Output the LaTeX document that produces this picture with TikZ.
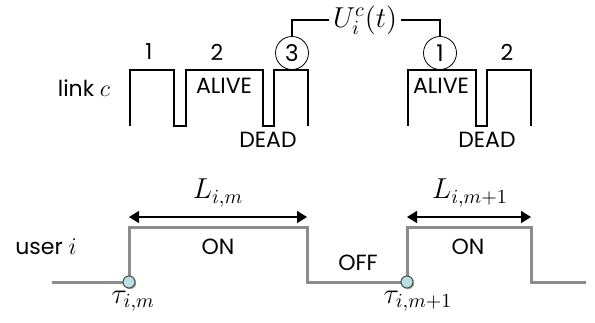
\documentclass[tikz,border=0pt]{standalone}
\usepackage[no-math]{fontspec}
\setmainfont{Poppins}
\usetikzlibrary{arrows.meta,shadows}

\begin{document}
\begin{tikzpicture}[
    x=0.5pt, y=-0.5pt,
    lbl/.style={font=\fontsize{11}{13}\selectfont, inner sep=1pt},
    mth/.style={font=\fontsize{14}{16}\selectfont, inner sep=1pt},
    num/.style={draw, circle, thin, minimum size=16.5pt, inner sep=0pt, fill=white, font=\fontsize{11.5}{13}\selectfont},
    link/.style={line width=0.75pt},
    usr/.style={line width=1.5pt, gray!90, line join=miter},
    dot/.style={draw=black!70, circle, fill={rgb,255:red,184;green,224;blue,228}, minimum size=6pt, inner sep=0pt, line width=0.5pt,
        drop shadow={shadow xshift=0.6pt, shadow yshift=-0.6pt, fill=gray!70, opacity=1}},
    span/.style={{Triangle[length=5pt,width=6pt]}-{Triangle[length=5pt,width=6pt]}, line width=0.75pt}
]
\useasboundingbox (0,0) rectangle (595,322);

% Link waveform
\draw[link] (130,126) -- (130,70) -- (174,70) -- (174,126) -- (186,126) -- (186,70) -- (263,70)
    -- (263,126) -- (274,126) -- (274,70) -- (308,70) -- (308,126);
\draw[link] (408,126) -- (408,70) -- (476,70) -- (476,126) -- (487,126) -- (487,70) -- (531,70) -- (531,126);

% User waveform
\draw[usr] (52,282) -- (129,282) -- (129,227) -- (307,227) -- (307,282) -- (407,282)
    -- (407,227) -- (531,227) -- (531,282) -- (586,282);

% Nodes
\node[lbl] (linkc) at (84,88) {link {\fontsize{13}{15}\selectfont$c$}};
\node[lbl] (one) at (149,52) {1};
\node[lbl] (two) at (217,52) {2};
\node[lbl] (alive1) at (224,86) {ALIVE};
\node[lbl] (dead1) at (268,140) {DEAD};
\node[num] (c3) at (292,53) {3};
\node[mth, inner sep=2pt] (U) at (365,20) {$U_i^c(t)$};
\node[num] (c1) at (440,53) {1};
\node[lbl] (alive2) at (441,86) {ALIVE};
\node[lbl] (dead2) at (487,140) {DEAD};
\node[lbl] (twob) at (507,52) {2};

\node[lbl] (user) at (46,247) {user {\fontsize{13}{15}\selectfont$i$}};
\node[lbl] (on1) at (218,247) {ON};
\node[lbl] (off) at (358,263) {OFF};
\node[lbl] (on2) at (468,247) {ON};
\node[dot] (tau1) at (129,282) {};
\node[dot] (tau2) at (407,282) {};
\node[mth] at (133,301) {$\tau_{i,m}$};
\node[mth] at (418,301) {$\tau_{i,m+1}$};

\coordinate (a1) at (129,217);
\coordinate (b1) at (307,217);
\coordinate (a2) at (407,217);
\coordinate (b2) at (531,217);
\node[mth] (L1) at (218,193) {$L_{i,m}$};
\node[mth] (L2) at (470,193) {$L_{i,m+1}$};

% Arrows
\draw[link] (c3.north) |- (U.west);
\draw[link] (U.east) -| (c1.north);
\draw[span] (a1) -- (b1);
\draw[span] (a2) -- (b2);
\end{tikzpicture}
\end{document}
